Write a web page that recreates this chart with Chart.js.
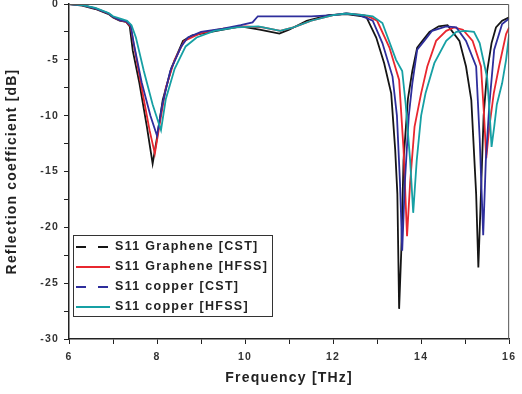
<!DOCTYPE html>
<html>
<head>
<meta charset="utf-8">
<script src="https://cdn.jsdelivr.net/npm/chart.js@4.4.1/dist/chart.umd.min.js"></script>
<style>
  html, body { margin: 0; padding: 0; background: #fff; }
  #wrap { width: 522px; height: 394px; }
</style>
</head>
<body>
<div id="wrap"><canvas id="s11Chart" width="522" height="394"></canvas></div>
<script>
// frequency [THz] / reflection [dB]
const grapheneCstFreq = [6, 6.3, 6.6, 6.9, 7.0, 7.15, 7.3, 7.38, 7.45, 7.6, 7.77, 7.9, 7.99, 8.13, 8.33, 8.59, 8.8, 9.35, 9.9, 10.33, 10.78, 11.0, 11.4, 11.9, 12.3, 12.67, 12.76, 12.98, 13.16, 13.32, 13.41, 13.46, 13.5, 13.55, 13.6, 13.7, 13.8, 13.91, 14.03, 14.19, 14.4, 14.6, 14.87, 15.02, 15.14, 15.25, 15.3, 15.35, 15.42, 15.5, 15.6, 15.7, 15.84, 16];
const grapheneCstDb = [0, -0.15, -0.45, -0.9, -1.2, -1.5, -1.6, -2.0, -4.2, -7.1, -11, -14.3, -12.2, -8.6, -5.7, -3.3, -2.8, -2.4, -2.0, -2.3, -2.65, -2.3, -1.5, -1.0, -0.9, -1.1, -1.2, -3.0, -5.3, -8.0, -13, -17, -27.3, -22, -14, -8.5, -6.0, -3.9, -3.3, -2.5, -2.0, -1.9, -3.3, -5.6, -8.6, -17, -23.6, -18, -10, -6, -3.5, -2.1, -1.5, -1.2];

const grapheneHfssFreq = [6, 6.3, 6.6, 6.9, 7.0, 7.15, 7.3, 7.4, 7.48, 7.65, 7.83, 7.95, 8.05, 8.2, 8.4, 8.62, 9.0, 9.5, 10.0, 10.4, 10.8, 11.1, 11.5, 12.0, 12.3, 12.7, 12.85, 13.0, 13.28, 13.5, 13.6, 13.68, 13.75, 13.85, 14.0, 14.14, 14.34, 14.57, 14.75, 14.95, 15.17, 15.36, 15.43, 15.48, 15.55, 15.65, 15.77, 15.93, 16];
const grapheneHfssDb = [0, -0.1, -0.4, -0.85, -1.15, -1.45, -1.6, -2.0, -3.8, -7.5, -11.3, -13.4, -11.0, -7.5, -5.0, -3.3, -2.6, -2.2, -2.0, -2.1, -2.4, -2.1, -1.5, -1.0, -0.85, -1.0, -1.2, -1.5, -3.9, -6.8, -13, -20.8, -16, -11, -8.0, -5.6, -3.3, -2.4, -2.1, -2.3, -3.3, -5.6, -10, -13.8, -11, -8, -5.6, -2.7, -2.1];

const copperCstFreq = [6, 6.3, 6.6, 6.9, 7.0, 7.15, 7.3, 7.4, 7.47, 7.65, 7.85, 8.0, 8.12, 8.3, 8.55, 8.7, 9.0, 9.5, 9.9, 10.17, 10.29, 11.5, 12.0, 12.3, 12.6, 12.9, 13.12, 13.35, 13.45, 13.52, 13.57, 13.63, 13.72, 13.8, 13.91, 14.07, 14.25, 14.57, 14.8, 15.02, 15.25, 15.33, 15.41, 15.47, 15.55, 15.66, 15.84, 16];
const copperCstDb = [0, -0.1, -0.4, -0.85, -1.15, -1.45, -1.55, -1.9, -3.5, -7, -10, -11.8, -9, -6, -3.8, -3.0, -2.5, -2.2, -1.9, -1.65, -1.1, -1.1, -1.0, -0.85, -1.0, -1.5, -3.5, -6.5, -10, -16, -22.1, -16, -10, -7.1, -4.1, -3.3, -2.4, -2.0, -2.1, -3.3, -5.6, -12, -20.7, -14, -9, -4.1, -1.8, -1.3];

const copperHfssFreq = [6, 6.3, 6.6, 6.9, 7.0, 7.2, 7.32, 7.42, 7.52, 7.7, 7.9, 8.09, 8.2, 8.4, 8.65, 8.9, 9.3, 9.8, 10.3, 10.8, 11.1, 11.5, 12.0, 12.3, 12.7, 12.9, 13.12, 13.43, 13.57, 13.65, 13.75, 13.82, 13.9, 14.0, 14.1, 14.3, 14.57, 14.8, 15.0, 15.2, 15.33, 15.5, 15.56, 15.6, 15.66, 15.72, 15.84, 15.93, 16];
const copperHfssDb = [0, -0.1, -0.35, -0.8, -1.1, -1.35, -1.5, -1.9, -3.0, -6.0, -9.0, -11.3, -8.5, -5.8, -3.8, -3.0, -2.4, -2.1, -2.0, -2.4, -2.1, -1.5, -1.0, -0.85, -1.0, -1.1, -1.7, -5.0, -6.0, -9, -14, -18.7, -14, -10, -8.0, -5.3, -3.3, -2.5, -2.4, -2.5, -3.5, -6.6, -10, -12.8, -11, -9, -7.1, -5, -2.7];

const seriesLabels = ['S11 Graphene [CST]', 'S11 Graphene [HFSS]', 'S11 copper [CST]', 'S11 copper [HFSS]'];
const xTicks = [6, 8, 10, 12, 14, 16];
const yTicks = [0, -5, -10, -15, -20, -25, -30];

function toPoints(xs, ys) {
  return xs.map((x, i) => ({ x: x, y: ys[i] }));
}

function makeSet(label, xs, ys, color, dash, order) {
  return {
    label: label,
    data: toPoints(xs, ys),
    borderColor: color,
    borderWidth: 1.8,
    pointRadius: 0,
    tension: 0,
    fill: false,
    legendDash: dash,
    order: order
  };
}

// frame on top/right + the boxed legend inside the plot
const framePlugin = {
  id: 'frame',
  beforeDraw(chart) {
    chart.ctx.letterSpacing = '1.2px';
  },
  afterDraw(chart) {
    const ctx = chart.ctx;
    const a = chart.chartArea;
    ctx.save();
    ctx.strokeStyle = '#555';
    ctx.lineWidth = 1;
    ctx.beginPath();
    ctx.moveTo(a.left, a.top + 0.5);
    ctx.lineTo(a.right - 0.5, a.top + 0.5);
    ctx.lineTo(a.right - 0.5, a.bottom);
    ctx.stroke();

    // legend
    const bx = a.left + 4, by = a.top + 231, bw = 199, bh = 81;
    ctx.strokeStyle = '#333';
    ctx.strokeRect(bx + 0.5, by + 0.5, bw, bh);
    ctx.font = 'bold 12.5px "Liberation Sans", Arial, sans-serif';
    ctx.letterSpacing = '1.3px';
    ctx.textBaseline = 'middle';
    chart.data.datasets.forEach((ds, i) => {
      const yy = by + 12 + i * 20;
      ctx.strokeStyle = ds.borderColor;
      ctx.lineWidth = 2;
      ctx.setLineDash(ds.legendDash);
      ctx.beginPath();
      ctx.moveTo(bx + 3, yy);
      ctx.lineTo(bx + 37, yy);
      ctx.stroke();
      ctx.setLineDash([]);
      ctx.fillStyle = '#222';
      ctx.fillText(ds.label, bx + 42, yy);
    });
    ctx.restore();
  }
};

const tickFont = { family: '"Liberation Sans", Arial, sans-serif', size: 10.5, weight: 'bold' };
const titleFont = { family: '"Liberation Sans", Arial, sans-serif', size: 14, weight: 'bold' };

new Chart(document.getElementById('s11Chart').getContext('2d'), {
  type: 'line',
  data: {
    datasets: [
      makeSet(seriesLabels[0], grapheneCstFreq, grapheneCstDb, '#151515', [10, 12], 4),
      makeSet(seriesLabels[1], grapheneHfssFreq, grapheneHfssDb, '#e8272f', [], 3),
      makeSet(seriesLabels[2], copperCstFreq, copperCstDb, '#2e2e9c', [10, 12], 2),
      makeSet(seriesLabels[3], copperHfssFreq, copperHfssDb, '#16a0a4', [], 1)
    ]
  },
  options: {
    responsive: false,
    animation: false,
    layout: { padding: { top: 4, right: 11, left: 0, bottom: 0 } },
    plugins: {
      legend: { display: false },
      tooltip: { enabled: false }
    },
    scales: {
      x: {
        type: 'linear',
        min: 6,
        max: 16,
        afterFit(s) { s.height = 55; },
        border: { color: '#222', width: 1.5 },
        grid: { drawOnChartArea: false, tickLength: 5, color: '#222' },
        ticks: {
          stepSize: 1,
          autoSkip: false,
          maxRotation: 0,
          padding: 7,
          color: '#333',
          font: tickFont,
          callback: v => xTicks.includes(v) ? String(v) : ''
        },
        title: {
          display: true,
          text: 'Frequency [THz]',
          color: '#222',
          font: titleFont,
          padding: { top: 0, bottom: 7 }
        }
      },
      y: {
        min: -30,
        max: 0,
        afterFit(s) { s.width = 69; s.paddingTop = 0; s.paddingBottom = 0; },
        border: { color: '#222', width: 1.5 },
        grid: { drawOnChartArea: false, tickLength: 5, color: '#222' },
        ticks: {
          stepSize: 2.5,
          autoSkip: false,
          padding: 5,
          color: '#333',
          font: tickFont,
          callback: v => yTicks.includes(v) ? String(v) : ''
        },
        title: {
          display: true,
          text: 'Reflection coefficient [dB]',
          color: '#222',
          font: titleFont,
          padding: { top: 4, bottom: 0 }
        }
      }
    }
  },
  plugins: [framePlugin]
});
</script>
</body>
</html>
